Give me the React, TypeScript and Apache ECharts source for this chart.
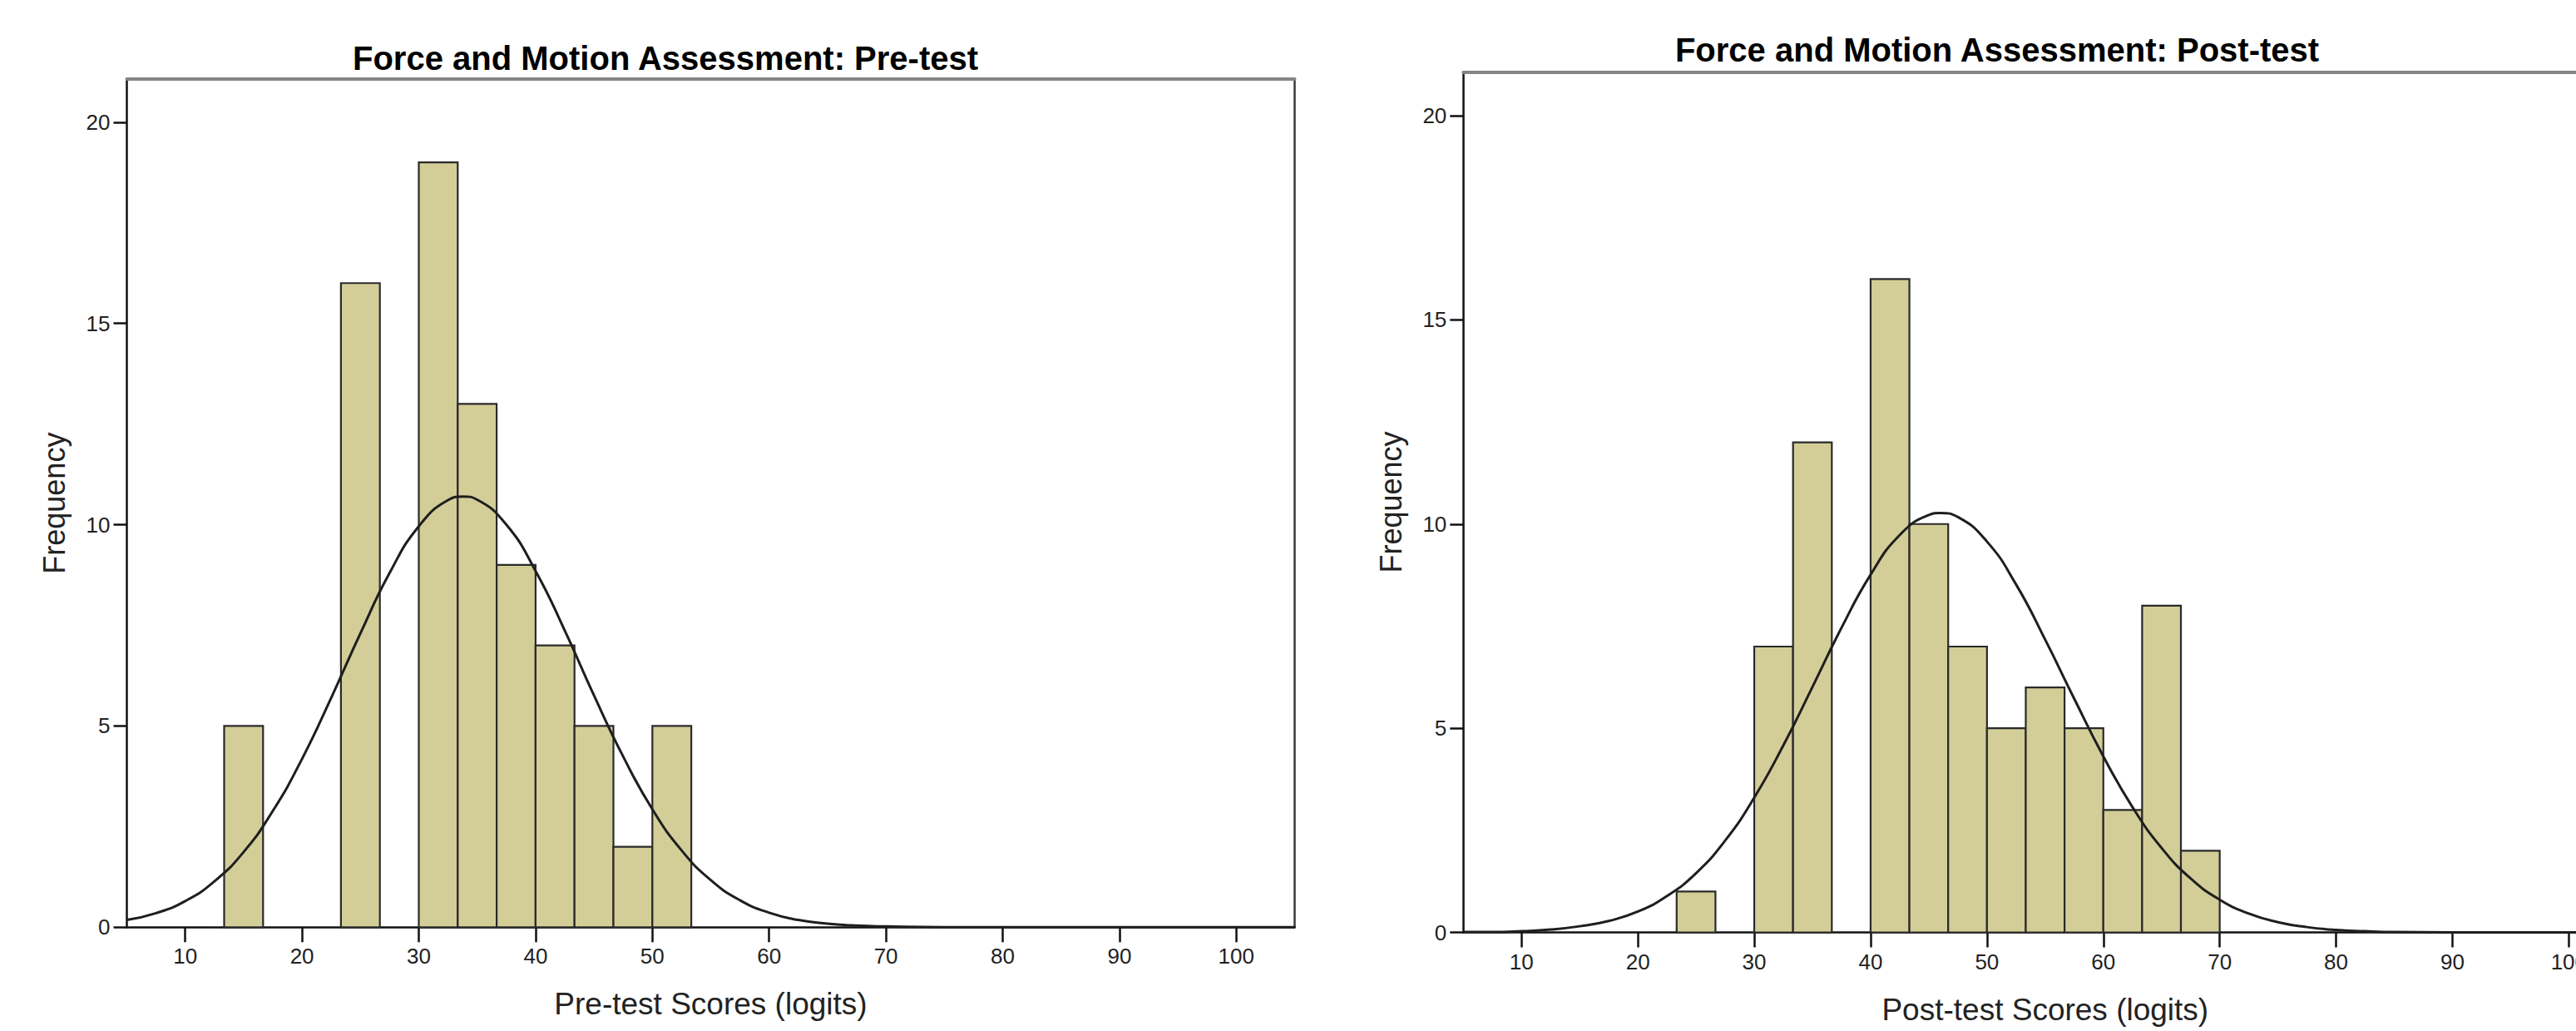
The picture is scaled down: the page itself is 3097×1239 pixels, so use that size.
import React, { useEffect, useRef } from "react";
import * as echarts from "echarts";

const FONT = '"Liberation Sans", Arial, Helvetica, sans-serif';

const X_TICKS = [10, 20, 30, 40, 50, 60, 70, 80, 90, 100];
const Y_TICKS = [0, 5, 10, 15, 20];
const X_MIN = 5;
const X_MAX = 105;
const Y_MAX = 21.07;
const BIN_WIDTH = 10 / 3;

const PRE_TITLE = "Force and Motion Assessment: Pre-test";
const POST_TITLE = "Force and Motion Assessment: Post-test";
const PRE_XNAME = "Pre-test Scores (logits)";
const POST_XNAME = "Post-test Scores (logits)";
const YNAME = "Frequency";

// histogram bins (start of each bin) and counts
const preBinStarts = [13.333, 23.333, 30, 33.333, 36.667, 40, 43.333, 46.667, 50];
const preCounts = [5, 16, 19, 13, 9, 7, 5, 2, 5];

const postBinStarts = [23.333, 30, 33.333, 40, 43.333, 46.667, 50, 53.333, 56.667, 60, 63.333, 66.667];
const postCounts = [1, 7, 12, 16, 10, 7, 5, 6, 5, 3, 8, 2];

// normal curve points
const preCurveX = [5, 7.5, 10, 12.5, 15, 17.5, 20, 22.5, 25, 27.5, 30, 32.5, 33.8, 35, 37.5, 40, 42.5, 45, 47.5, 50, 52.5, 55, 57.5, 60, 62.5, 65, 67.5, 70, 75, 80, 90, 105];
const preCurveY = [0.18, 0.35, 0.65, 1.14, 1.87, 2.89, 4.18, 5.7, 7.3, 8.8, 9.96, 10.61, 10.7, 10.62, 10.0, 8.85, 7.37, 5.76, 4.24, 2.93, 1.91, 1.17, 0.67, 0.36, 0.18, 0.09, 0.04, 0.02, 0.0, 0, 0, 0];

const postCurveX = [5, 7.5, 10, 12.5, 15, 17.5, 20, 22.5, 25, 27.5, 30, 32.5, 35, 37.5, 40, 42.5, 45, 46, 47.5, 50, 52.5, 55, 57.5, 60, 62.5, 65, 67.5, 70, 72.5, 75, 77.5, 80, 82.5, 85, 90, 105];
const postCurveY = [0.01, 0.01, 0.03, 0.07, 0.15, 0.28, 0.51, 0.89, 1.45, 2.25, 3.3, 4.58, 6.01, 7.46, 8.76, 9.73, 10.22, 10.27, 10.17, 9.57, 8.52, 7.17, 5.72, 4.31, 3.07, 2.07, 1.32, 0.8, 0.46, 0.25, 0.13, 0.06, 0.03, 0.01, 0, 0];

const BAR_FILL = "#D3CE98";
const BAR_STROKE = "#2a2a2a";

function App() {
  const ref = useRef<HTMLDivElement>(null);

  useEffect(() => {
    if (!ref.current) return;
    const chart = echarts.init(ref.current, undefined, { renderer: "svg" });

    const grids = [
      { left: 152.5, top: 95, width: 1404, height: 1019.3 },
      { left: 1759.3, top: 86.5, width: 1399, height: 1034 },
    ];

    const mkBottomX = (gi: number, name: string) => ({
      type: "value",
      gridIndex: gi,
      position: "bottom",
      min: X_MIN,
      max: X_MAX,
      name,
      nameLocation: "middle",
      nameGap: 74,
      nameTextStyle: { fontFamily: FONT, fontSize: 37, color: "#222" },
      axisLine: { show: true, onZero: false, lineStyle: { color: "#111", width: 2.5 } },
      axisTick: { show: true, length: 18, customValues: X_TICKS, lineStyle: { color: "#111", width: 2.5 } },
      axisLabel: { show: true, customValues: X_TICKS, margin: 22, fontFamily: FONT, fontSize: 26, color: "#222", showMinLabel: true, showMaxLabel: true },
      splitLine: { show: false },
    });
    const mkTopX = (gi: number) => ({
      type: "value",
      gridIndex: gi,
      position: "top",
      min: X_MIN,
      max: X_MAX,
      axisLine: { show: true, onZero: false, lineStyle: { color: "#858585", width: 4 } },
      axisTick: { show: false },
      axisLabel: { show: false },
      splitLine: { show: false },
    });
    const mkLeftY = (gi: number) => ({
      type: "value",
      gridIndex: gi,
      position: "left",
      min: 0,
      max: Y_MAX,
      name: YNAME,
      nameLocation: "middle",
      nameGap: 69,
      nameRotate: 90,
      nameTextStyle: { fontFamily: FONT, fontSize: 36, color: "#222" },
      axisLine: { show: true, onZero: false, lineStyle: { color: "#111", width: 2.5 } },
      axisTick: { show: true, length: 16, customValues: Y_TICKS, lineStyle: { color: "#111", width: 2.5 } },
      axisLabel: { show: true, customValues: Y_TICKS, margin: 20, fontFamily: FONT, fontSize: 26, color: "#222" },
      splitLine: { show: false },
    });
    const mkRightY = (gi: number) => ({
      type: "value",
      gridIndex: gi,
      position: "right",
      min: 0,
      max: Y_MAX,
      axisLine: { show: true, onZero: false, lineStyle: { color: "#3a3a3a", width: 2.5 } },
      axisTick: { show: false },
      axisLabel: { show: false },
      splitLine: { show: false },
    });

    const histData = (starts: number[], counts: number[]) =>
      starts.map((s, i) => [s, s + BIN_WIDTH, counts[i]]);

    const renderBar = (params: any, api: any) => {
      const p0 = api.coord([api.value(0), api.value(2)]);
      const p1 = api.coord([api.value(1), 0]);
      return {
        type: "rect",
        shape: { x: p0[0], y: p0[1], width: p1[0] - p0[0], height: p1[1] - p0[1] },
        style: { fill: BAR_FILL, stroke: BAR_STROKE, lineWidth: 2.2 },
      };
    };

    const curve = (xs: number[], ys: number[]) => xs.map((x, i) => [x, ys[i]]);

    const option: any = {
      animation: false,
      backgroundColor: "#ffffff",
      grid: grids.map((g) => ({ ...g, containLabel: false, outerBoundsMode: "none", show: false })),
      xAxis: [mkBottomX(0, PRE_XNAME), mkTopX(0), mkBottomX(1, POST_XNAME), mkTopX(1)],
      yAxis: [mkLeftY(0), mkRightY(0), mkLeftY(1), mkRightY(1)],
      series: [
        {
          type: "custom",
          name: "Pre-test",
          xAxisIndex: 0,
          yAxisIndex: 0,
          renderItem: renderBar,
          encode: { x: [0, 1], y: 2 },
          data: histData(preBinStarts, preCounts),
          z: 2,
        },
        {
          type: "line",
          name: "Pre-test normal",
          xAxisIndex: 0,
          yAxisIndex: 0,
          data: curve(preCurveX, preCurveY),
          smooth: 0.5,
          showSymbol: false,
          symbol: "none",
          lineStyle: { color: "#1e1e1e", width: 3 },
          z: 3,
        },
        {
          type: "custom",
          name: "Post-test",
          xAxisIndex: 2,
          yAxisIndex: 2,
          renderItem: renderBar,
          encode: { x: [0, 1], y: 2 },
          data: histData(postBinStarts, postCounts),
          z: 2,
        },
        {
          type: "line",
          name: "Post-test normal",
          xAxisIndex: 2,
          yAxisIndex: 2,
          data: curve(postCurveX, postCurveY),
          smooth: 0.5,
          showSymbol: false,
          symbol: "none",
          lineStyle: { color: "#1e1e1e", width: 3 },
          z: 3,
        },
      ],
      graphic: [
        {
          type: "text",
          x: 800,
          y: 70,
          style: {
            text: PRE_TITLE,
            fontFamily: FONT,
            fontSize: 40,
            fontWeight: "bold",
            fill: "#000",
            align: "center",
            verticalAlign: "middle",
          },
        },
        {
          type: "text",
          x: 2401,
          y: 60,
          style: {
            text: POST_TITLE,
            fontFamily: FONT,
            fontSize: 40,
            fontWeight: "bold",
            fill: "#000",
            align: "center",
            verticalAlign: "middle",
          },
        },
      ],
    };

    chart.setOption(option);
    return () => {
      chart.dispose();
    };
  }, []);

  return (
    <div
      ref={ref}
      style={{ position: "absolute", left: 0, top: 0, width: 3097, height: 1239, background: "#fff" }}
    />
  );
}

export default App;
